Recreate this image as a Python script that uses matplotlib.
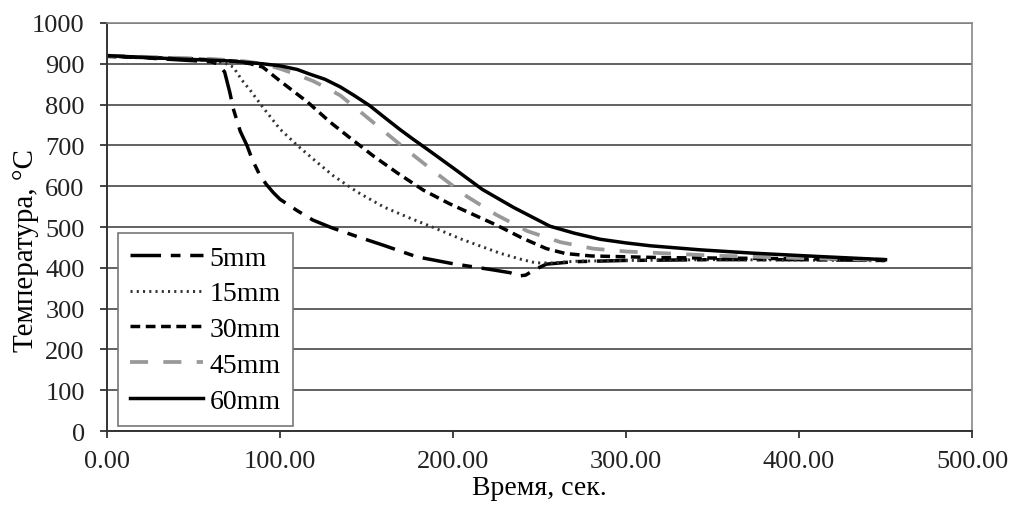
import matplotlib
matplotlib.use("Agg")
import matplotlib.pyplot as plt

plt.rcParams['font.family'] = ['Liberation Serif', 'DejaVu Serif']
plt.rcParams['lines.scale_dashes'] = False

# time (s) / temperature (C), per plate thickness
t_5mm = [0, 20, 40, 60, 64, 68, 71, 73, 77, 81, 84, 88, 92, 96, 100, 110, 119, 130,
         145, 160, 179, 200, 223, 233, 238, 242, 247, 254, 270, 300, 350, 400, 450]
temp_5mm = [920, 915, 910, 905, 900, 880, 830, 790, 735, 699, 665, 630, 605, 585, 568,
            540, 517, 498, 476, 455, 427, 410, 395, 388, 380, 382, 395, 409, 415, 418,
            420, 420, 418]

t_15mm = [0, 40, 60, 68, 73, 78, 83, 90, 100, 110, 121, 131, 145, 160, 175, 188, 205,
          227, 240, 248, 258, 270, 300, 350, 400, 450]
temp_15mm = [918, 912, 908, 902, 892, 860, 834, 794, 740, 700, 660, 625, 585, 549, 522,
             500, 470, 436, 420, 412, 412, 416, 418, 420, 419, 417]

t_30mm = [0, 50, 75, 83, 90, 100, 108, 116, 129, 140, 154, 168, 183, 198, 212, 225,
          240, 254, 265, 280, 320, 380, 450]
temp_30mm = [918, 912, 906, 900, 892, 858, 832, 806, 757, 720, 674, 632, 590, 557, 530,
             505, 473, 447, 435, 429, 425, 423, 420]

t_45mm = [0, 60, 80, 90, 100, 110, 119, 127, 135, 148, 162, 175, 190, 208, 225, 243,
          262, 281, 300, 350, 400, 450]
temp_45mm = [920, 912, 906, 900, 888, 873, 858, 841, 822, 777, 728, 683, 633, 575, 530,
             490, 463, 447, 440, 430, 424, 419]

t_60mm = [0, 40, 71, 90, 100, 110, 117, 126, 135, 143, 152, 160, 169, 177, 185, 200,
          217, 235, 256, 270, 285, 300, 314, 343, 373, 410, 450]
temp_60mm = [920, 912, 907, 900, 895, 886, 875, 862, 843, 822, 797, 770, 740, 715, 691,
             645, 592, 548, 502, 485, 470, 461, 454, 444, 436, 428, 420]

x_ticks = [0, 100, 200, 300, 400, 500]
y_ticks = list(range(0, 1001, 100))

fig = plt.figure(figsize=(10.12, 5.06), dpi=100)
ax = fig.add_axes([0.1057, 0.1462, 0.8548, 0.8064])

ax.plot(t_5mm, temp_5mm, color='black', lw=2.5, dashes=(22, 7, 7, 7), label='5mm')
ax.plot(t_15mm, temp_15mm, color='#333333', lw=2.1, dashes=(1.5, 3.0), label='15mm')
ax.plot(t_30mm, temp_30mm, color='black', lw=2.5, dashes=(7, 4), label='30mm')
ax.plot(t_45mm, temp_45mm, color='#999999', lw=2.7, dashes=(13, 11), label='45mm')
ax.plot(t_60mm, temp_60mm, color='black', lw=2.5, label='60mm')

ax.set_xlim(0, 500)
ax.set_ylim(0, 1000)
ax.set_xticks(x_ticks)
ax.set_xticklabels([f'{v:.2f}' for v in x_ticks])
ax.set_yticks(y_ticks)

ax.yaxis.grid(True, color='#555555', lw=1.3)
ax.set_axisbelow(True)
for side in ('top', 'right'):
    ax.spines[side].set_color('#888888')
    ax.spines[side].set_linewidth(1.2)
for side in ('left', 'bottom'):
    ax.spines[side].set_color('#333333')
    ax.spines[side].set_linewidth(1.4)

ax.tick_params(axis='both', direction='out', length=5, width=1.2, labelsize=19,
               colors='#222222')
ax.tick_params(axis='y', pad=11)
ax.tick_params(axis='x', pad=9)

ax.set_xlabel('Время, сек.', fontsize=20, labelpad=2)
ax.set_ylabel('Температура, °C', fontsize=21)
ax.yaxis.set_label_coords(-0.078, 0.444)

lgd = ax.legend(loc='lower left', bbox_to_anchor=(0.0127, 0.012), borderaxespad=0,
                fontsize=20, handlelength=2.6, handletextpad=0.25, labelspacing=0.37,
                borderpad=0.45, fancybox=False, framealpha=1, edgecolor='#777777')
lgd.get_frame().set_linewidth(1.2)

fig.savefig('out.png', dpi=100)
